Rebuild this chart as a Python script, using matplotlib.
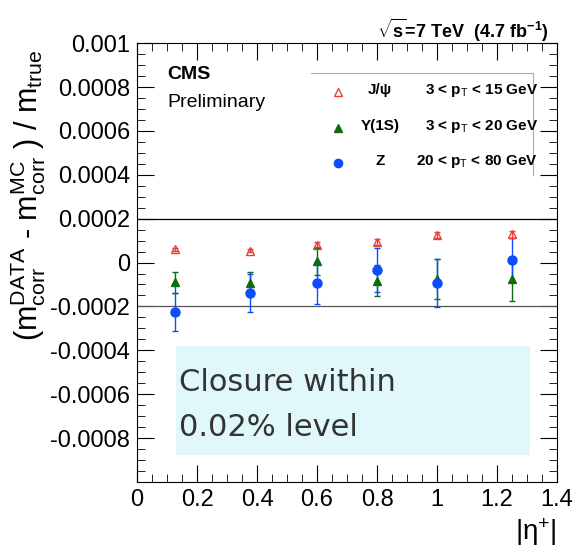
import numpy as np
import matplotlib.pyplot as plt
from matplotlib.ticker import MultipleLocator

# bin centres in |eta+|
eta = [0.125, 0.375, 0.6, 0.8, 1.0, 1.25]

# relative mass-scale residual after correction, per resonance
jpsi = [0.00006, 0.000054, 0.000081, 0.000094, 0.000124, 0.000128]
jpsi_err = [0.000008, 0.000008, 0.000012, 0.000014, 0.000014, 0.000018]
ups = [-0.000089, -0.000094, 0.000005, -0.000083, -0.000074, -0.000075]
ups_err = [0.000048, 0.00005, 0.00006, 0.00007, 0.00009, 0.0001]
zmm = [-0.000225, -0.000139, -0.000094, -0.000034, -0.000094, 0.000013]
zmm_err = [0.000085, 0.000086, 0.000096, 0.0001, 0.00011, 0.0001]

legend_names = ["J/\u03c8", "\u03a5(1S)", "Z"]
legend_ranges = [r"3 < p$_{\mathrm{T}}$ < 15 GeV", r"3 < p$_{\mathrm{T}}$ < 20 GeV",
                 r"20 < p$_{\mathrm{T}}$ < 80 GeV"]

plt.rcParams['font.family'] = ['Liberation Sans', 'DejaVu Sans']
plt.rcParams['mathtext.fontset'] = 'custom'
plt.rcParams['mathtext.rm'] = 'Liberation Sans'
plt.rcParams['mathtext.it'] = 'Liberation Sans'
plt.rcParams['mathtext.bf'] = 'Liberation Sans:bold'

fig = plt.figure(figsize=(5.76, 5.47), dpi=100)
ax = fig.add_axes([0.238, 0.119, 0.729, 0.802])

red = '#e8413a'
green = '#0f6b12'
blue = '#0d4dff'

ax.axhline(0.0002, color='black', lw=0.9)
ax.axhline(-0.0002, color='#555555', lw=0.9)

ax.errorbar(eta, jpsi, yerr=jpsi_err, fmt='^', ms=6, mfc='none', mec=red,
            ecolor=red, elinewidth=1, capsize=2, mew=1)
ax.errorbar(eta, ups, yerr=ups_err, fmt='^', ms=6, color=green,
            ecolor=green, elinewidth=1, capsize=2)
ax.errorbar(eta, zmm, yerr=zmm_err, fmt='o', ms=6.5, color=blue,
            ecolor=blue, elinewidth=1, capsize=2)

ax.set_xlim(0, 1.4)
ax.set_ylim(-0.001, 0.001)
ax.tick_params(which='both', direction='in', top=True, right=True, labelsize=17, pad=5)
ax.tick_params(which='major', length=12)
ax.tick_params(which='minor', length=6)
ax.set_xticks([0, 0.2, 0.4, 0.6, 0.8, 1.0, 1.2, 1.4])
ax.set_xticklabels(['0', '0.2', '0.4', '0.6', '0.8', '1', '1.2', '1.4'])
yt = np.arange(-8, 11, 2) * 0.0001
ax.set_yticks(yt)
ax.set_yticklabels(['-0.0008', '-0.0006', '-0.0004', '-0.0002', '0', '0.0002',
                    '0.0004', '0.0006', '0.0008', '0.001'])
ax.set_ylim(-0.001, 0.001)
ax.xaxis.set_minor_locator(MultipleLocator(0.05))
ax.yaxis.set_minor_locator(MultipleLocator(0.00005))

ax.set_ylabel(r"(m$^{\mathrm{DATA}}_{\mathrm{corr}}$ - m$^{\mathrm{MC}}_{\mathrm{corr}}$ ) / m$_{\mathrm{true}}$",
              fontsize=22, loc='top')
ax.yaxis.set_label_coords(-0.212, 0.985)
ax.set_xlabel("|\u03b7$^{+}$|", fontsize=20, loc='right')

fig.text(0.953, 0.945, r"$\mathbf{\sqrt{s}}$=7 TeV  (4.7 fb$^{\mathbf{-1}}$)",
         ha='right', va='center', fontsize=13, fontweight='bold')

ax.text(0.072, 0.928, "CMS", transform=ax.transAxes, fontsize=14, fontweight='bold', va='center')
ax.text(0.072, 0.865, "Preliminary", transform=ax.transAxes, fontsize=14, va='center')

# legend block
ax.plot([0.414, 0.943], [0.932, 0.932], transform=ax.transAxes, color='#aaaaaa', lw=0.8)
ax.plot([0.943, 0.943], [0.932, 0.70], transform=ax.transAxes, color='#aaaaaa', lw=0.8)
rows = [0.888, 0.806, 0.726]
styles = [dict(marker='^', mfc='none', mec=red, ms=6),
          dict(marker='^', color=green, ms=6),
          dict(marker='o', color=blue, ms=6)]
for y, name, rng, st in zip(rows, legend_names, legend_ranges, styles):
    ax.plot([0.479], [y], transform=ax.transAxes, ls='none', **st)
    ax.text(0.578, y + 0.005, name, transform=ax.transAxes, ha='center', va='center',
            fontsize=11, fontweight='bold')
    ax.text(0.955, y + 0.005, rng, transform=ax.transAxes, ha='right', va='center',
            fontsize=11, fontweight='bold')

# closure note
ax.add_patch(plt.Rectangle((0.093, 0.062), 0.843, 0.248, transform=ax.transAxes,
                           facecolor='#e1f8fb', edgecolor='none', zorder=0))
ax.text(0.1, 0.226, "Closure within", transform=ax.transAxes, fontsize=22,
        color='#333333', va='center', family=['DejaVu Sans'])
ax.text(0.1, 0.124, "0.02% level", transform=ax.transAxes, fontsize=22,
        color='#333333', va='center', family=['DejaVu Sans'])

fig.savefig('out.png', dpi=100)
